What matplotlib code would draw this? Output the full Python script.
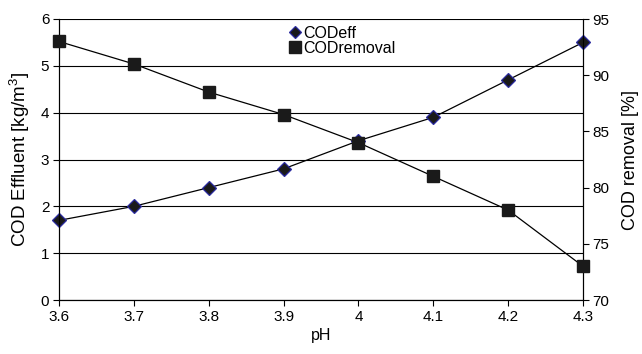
import numpy as np
import matplotlib
matplotlib.use("Agg")
import matplotlib.pyplot as plt

# data
ph = [3.6, 3.7, 3.8, 3.9, 4.0, 4.1, 4.2, 4.3]
cod_eff = [1.7, 2.0, 2.4, 2.8, 3.4, 3.9, 4.7, 5.5]          # kg/m3
cod_removal = [93, 91, 88.5, 86.5, 84, 81, 78, 73]          # %
xticks = [3.6, 3.7, 3.8, 3.9, 4.0, 4.1, 4.2, 4.3]
xticklabels = ["3.6", "3.7", "3.8", "3.9", "4", "4.1", "4.2", "4.3"]

plt.rcParams['font.family'] = ['Liberation Sans', 'DejaVu Sans']
plt.rcParams['font.size'] = 11
plt.rcParams['mathtext.fontset'] = 'custom'
plt.rcParams['mathtext.rm'] = 'Liberation Sans'

fig = plt.figure(figsize=(6.42, 3.54), dpi=100)
ax = fig.add_axes([59/642, 1-300/354, (583-59)/642, (300-19)/354])
ax2 = ax.twinx()

# horizontal grid
for yv in range(0, 7):
    ax.axhline(yv, color='black', lw=0.8, zorder=0)

l1, = ax.plot(ph, cod_eff, color='black', lw=0.9, marker='D', ms=7,
              mfc='#1a1a1a', mec='#2b2ba0', mew=0.9, label='CODeff',
              zorder=3, clip_on=False)
l2, = ax2.plot(ph, cod_removal, color='black', lw=0.9, marker='s', ms=9,
               mfc='#1a1a1a', mec='#1a1a1a', label='CODremoval',
               zorder=3, clip_on=False)

ax.set_xlim(3.6, 4.3)
ax.set_ylim(0, 6)
ax2.set_ylim(70, 95)
ax.set_xticks(xticks)
ax.set_xticklabels(xticklabels)
ax.set_yticks(range(0, 7))
ax2.set_yticks(range(70, 96, 5))

for a in (ax, ax2):
    a.tick_params(direction='out', length=4, width=0.8, colors='black',
                  pad=3, labelsize=11)
    for s in a.spines.values():
        s.set_linewidth(0.8)
ax.spines['top'].set_visible(False)
ax2.spines['top'].set_visible(False)

ax.set_xlabel("pH", labelpad=3, fontsize=11.5)
ax.set_ylabel("COD Effluent [kg/m$^\\mathregular{3}$]", labelpad=6, fontsize=13.5)
ax2.set_ylabel("COD removal [%]", labelpad=9, fontsize=13)

leg = ax.legend(handles=[l1, l2], loc='upper left',
                bbox_to_anchor=(232/524, 1 - 7/281),
                frameon=False, handlelength=0.5, handletextpad=0.25,
                borderaxespad=0, borderpad=0, labelspacing=0.0, fontsize=11.5)
leg.legend_handles[0].set_markersize(6)
leg.legend_handles[1].set_markersize(8.5)

fig.savefig("out.png", dpi=100)
